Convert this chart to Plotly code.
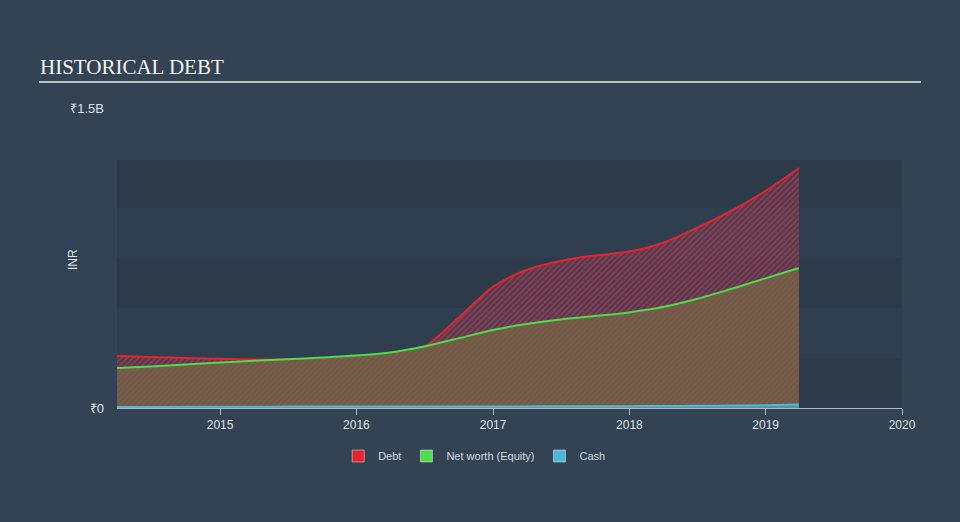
import plotly.graph_objects as go

# ---- data (values in INR, quarterly) ----
dates = ["2014-03-31", "2014-06-30", "2014-09-30", "2014-12-31",
         "2015-03-31", "2015-06-30", "2015-09-30", "2015-12-31",
         "2016-03-31", "2016-06-30", "2016-09-30", "2016-12-31",
         "2017-03-31", "2017-06-30", "2017-09-30", "2017-12-31",
         "2018-03-31", "2018-06-30", "2018-09-30", "2018-12-31",
         "2019-03-31"]
debt = [0.260e9, 0.255e9, 0.250e9, 0.246e9,
        0.243e9, 0.243e9, 0.248e9, 0.258e9,
        0.272e9, 0.305e9, 0.450e9, 0.605e9,
        0.690e9, 0.735e9, 0.762e9, 0.782e9,
        0.825e9, 0.900e9, 0.985e9, 1.085e9,
        1.200e9]
equity = [0.200e9, 0.208e9, 0.217e9, 0.227e9,
          0.236e9, 0.244e9, 0.252e9, 0.262e9,
          0.278e9, 0.308e9, 0.348e9, 0.390e9,
          0.420e9, 0.443e9, 0.460e9, 0.478e9,
          0.505e9, 0.545e9, 0.595e9, 0.648e9,
          0.700e9]
cash = [0.005e9, 0.005e9, 0.006e9, 0.006e9,
        0.006e9, 0.007e9, 0.007e9, 0.007e9,
        0.007e9, 0.008e9, 0.008e9, 0.008e9,
        0.008e9, 0.009e9, 0.009e9, 0.009e9,
        0.010e9, 0.011e9, 0.012e9, 0.014e9,
        0.018e9]

series_names = ["Debt", "Net worth (Equity)", "Cash"]
series_colors = ["#e8232f", "#4fdc4b", "#4bb8da"]
ytick_vals = [0, 1.5e9]
ytick_text = ["₹0", "₹1.5B"]
xtick_vals = ["2015-01-01", "2016-01-01", "2017-01-01", "2018-01-01", "2019-01-01", "2020-01-01"]
xtick_text = ["2015", "2016", "2017", "2018", "2019", "2020"]

L, R, T, B = 117, 58, 108, 114
W, H = 960, 522
PW, PH = W - L - R, H - T - B

def px(x):
    return (x - L) / PW

def py(y):
    return (H - B - y) / PH

fig = go.Figure()

# Debt area
fig.add_trace(go.Scatter(
    x=dates, y=debt, mode="lines",
    line=dict(color=series_colors[0], width=2, shape="spline", smoothing=0.8),
    fill="tozeroy", fillcolor="rgba(0,0,0,0)",
    fillpattern=dict(shape="/", fgcolor="rgba(220,60,85,1)", bgcolor="rgba(95,60,80,0.6)",
                     size=4, solidity=0.45),
    showlegend=False, hoverinfo="skip"))
# Equity area
fig.add_trace(go.Scatter(
    x=dates, y=equity, mode="lines",
    line=dict(color=series_colors[1], width=2, shape="spline", smoothing=0.8),
    fill="tozeroy", fillcolor="rgba(0,0,0,0)",
    fillpattern=dict(shape="/", fgcolor="rgba(92,118,80,1)", bgcolor="rgba(125,82,70,1)",
                     size=4, solidity=0.5),
    showlegend=False, hoverinfo="skip"))
# Cash area
fig.add_trace(go.Scatter(
    x=dates, y=cash, mode="lines",
    line=dict(color=series_colors[2], width=2, shape="spline", smoothing=0.8),
    fill="tozeroy", fillcolor="rgba(75,184,218,0.6)",
    showlegend=False, hoverinfo="skip"))

# legend swatches
for name, col in zip(series_names, series_colors):
    fig.add_trace(go.Bar(x=[None], y=[None], name=name, marker=dict(color=col)))

shapes = []
# horizontal bands
band_edges = [0, 0.25e9, 0.5e9, 0.75e9, 1.0e9, 1.24e9]
for i in range(5):
    op = 0.42 if i % 2 == 0 else 0.18
    shapes.append(dict(type="rect", xref="paper", yref="y", x0=0, x1=1,
                       y0=band_edges[i], y1=band_edges[i + 1],
                       fillcolor=f"rgba(35,48,62,{op})", line=dict(width=0), layer="below"))
# title underline
shapes.append(dict(type="line", xref="paper", yref="paper", x0=px(39), x1=px(921),
                   y0=py(82), y1=py(82), line=dict(color="#b7bec7", width=2)))

fig.update_layout(
    width=W, height=H,
    margin=dict(l=L, r=R, t=T, b=B),
    paper_bgcolor="#334353",
    plot_bgcolor="rgba(0,0,0,0)",
    shapes=shapes,
    barmode="overlay",
    font=dict(family="Liberation Sans, Arial, sans-serif", color="#d5dbe2"),
    annotations=[
        dict(text="HISTORICAL DEBT", xref="paper", yref="paper", x=px(38), y=py(67),
             xanchor="left", yanchor="middle", showarrow=False,
             font=dict(family="Liberation Serif, Times New Roman, serif", size=21, color="#f2f2f2")),
        dict(text="INR", xref="paper", yref="paper", x=px(73), y=py(260),
             xanchor="center", yanchor="middle", showarrow=False, textangle=-90,
             font=dict(size=12, color="#dfe3e8")),
    ],
    xaxis=dict(
        type="date", range=["2014-03-31", "2020-01-01"],
        tickvals=xtick_vals, ticktext=xtick_text,
        showgrid=False, zeroline=False, showline=True, linecolor="#aeb6c0", linewidth=1,
        ticks="outside", ticklen=6, tickcolor="#aeb6c0", tickfont=dict(size=12, color="#dfe3e8"),
        fixedrange=True),
    yaxis=dict(
        range=[0, 1.5e9], tickvals=ytick_vals, ticktext=ytick_text,
        showgrid=False, zeroline=False, showline=False,
        tickfont=dict(size=13, color="#dfe3e8"), ticklabelstandoff=12,
        fixedrange=True),
    legend=dict(orientation="h", x=0.455, xanchor="center", y=py(456), yanchor="middle",
                font=dict(size=11, color="#d5dbe2"), bgcolor="rgba(0,0,0,0)",
                itemclick=False, itemdoubleclick=False),
    showlegend=True,
)

fig.write_html("out.html")
